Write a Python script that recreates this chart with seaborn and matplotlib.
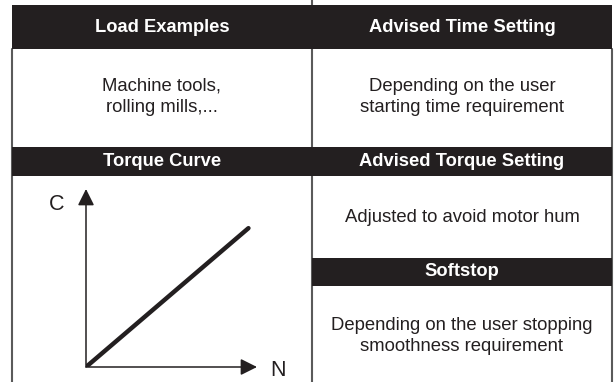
import matplotlib
matplotlib.use("Agg")
import matplotlib.pyplot as plt
from matplotlib.patches import Rectangle
import seaborn as sns
import pandas as pd

# --- datos ---
headers = ["Load Examples", "Advised Time Setting", "Torque Curve",
           "Advised Torque Setting", "Softstop"]
load_text = "Machine tools,\nrolling mills,..."
time_text = "Depending on the user\nstarting time requirement"
torque_text = "Adjusted to avoid motor hum"
stop_text = "Depending on the user stopping\nsmoothness requirement"

# curva de par: lineal (C crece con N)
speed_n = [0, 95]
torque_c = [0, 78]

sns.set_theme(style="white")
plt.rcParams['font.family'] = ['Liberation Sans', 'DejaVu Sans']

DARK = '#231f20'
GRID = '#5a5a5a'

fig = plt.figure(figsize=(6.16, 3.82), dpi=100)
ax = fig.add_axes([0, 0, 1, 1])
ax.set_xlim(0, 616)
ax.set_ylim(382, 0)
ax.axis('off')

# bandas de encabezado
bands = [(12, 5, 600, 44), (12, 147, 600, 29), (312, 258, 300, 28)]
for x, y, w, h in bands:
    ax.add_patch(Rectangle((x, y), w, h, facecolor=DARK, edgecolor='none', zorder=2))

# lineas de la tabla
ax.plot([12, 12], [49, 382], color=GRID, lw=1.5, zorder=1)
ax.plot([312, 312], [0, 382], color=GRID, lw=1.5, zorder=1)
ax.plot([612, 612], [49, 382], color=GRID, lw=1.5, zorder=1)

hkw = dict(color='white', fontsize=13.2, fontweight='bold', ha='center', va='center', zorder=3)
ax.text(162, 27, headers[0], **hkw)
ax.text(462, 27, headers[1], **hkw)
ax.text(162, 162, headers[2], **hkw)
ax.text(462, 162, headers[3], **hkw)
ax.text(462, 272, headers[4], **hkw)

bkw = dict(color=DARK, fontsize=13.3, ha='center', va='center', linespacing=1.35)
ax.text(162, 97, load_text, **bkw)
ax.text(462, 97, time_text, **bkw)
ax.text(462, 217, torque_text, **bkw)
ax.text(462, 336, stop_text, **bkw)

# --- grafico de la curva de par ---
x0, y0, x1, y1 = 86, 367, 257, 189
cax = fig.add_axes([x0 / 616, (382 - y0) / 382, (x1 - x0) / 616, (y0 - y1) / 382])
cax.set_facecolor('none')
df = pd.DataFrame({'N': speed_n, 'C': torque_c})
sns.lineplot(data=df, x='N', y='C', ax=cax, color=DARK, lw=3.2, solid_capstyle='round')
cax.set_xlim(0, 100)
cax.set_ylim(0, 100)
cax.set_xticks([])
cax.set_yticks([])
cax.set_xlabel('')
cax.set_ylabel('')
for s in cax.spines.values():
    s.set_visible(False)

akw = dict(arrowstyle='-|>,head_length=0.4,head_width=0.2', color=DARK, lw=1.1,
           mutation_scale=25, shrinkA=0, shrinkB=0)
cax.annotate('', xy=(1, 0), xytext=(0, 0), xycoords='axes fraction',
             arrowprops=akw, annotation_clip=False)
cax.annotate('', xy=(0, 1), xytext=(0, 0), xycoords='axes fraction',
             arrowprops=akw, annotation_clip=False)
ax.text(57, 205, "C", fontsize=15.5, color=DARK, ha='center', va='center')
ax.text(278, 370, "N", fontsize=15.5, color=DARK, ha='center', va='center')

plt.savefig('out.png', dpi=100)
